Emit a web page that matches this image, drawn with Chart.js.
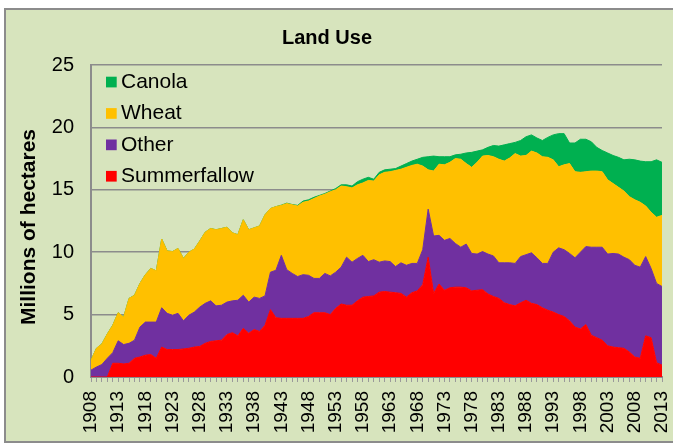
<!DOCTYPE html>
<html>
<head>
<meta charset="utf-8">
<title>Land Use</title>
<script src="https://cdn.jsdelivr.net/npm/chart.js@4.4.1/dist/chart.umd.min.js"></script>
<style>
  html, body { margin: 0; padding: 0; background: #fff; }
  #wrap { width: 673px; height: 444px; position: relative; }
</style>
</head>
<body>
<div id="wrap"><canvas id="landChart"></canvas></div>
<script>
// categories: one point per year
const firstYear = 1908;
const lastYear = 2013;
const years = [];
for (let y = firstYear; y <= lastYear; y++) years.push(String(y));
const labelEvery = 5;

// millions of hectares
const summerfallow = [
  0, 0, 0, 0, 1.1, 1.1, 1.05, 1.1, 1.5, 1.6,
  1.75, 1.8, 1.5, 2.4, 2.2, 2.2, 2.2, 2.25, 2.3, 2.4,
  2.45, 2.7, 2.85, 2.9, 2.95, 3.4, 3.55, 3.3, 3.9, 3.5,
  3.8, 3.65, 4.15, 5.4, 4.75, 4.7, 4.7, 4.7, 4.7, 4.7,
  4.85, 5.15, 5.15, 5.15, 5.0, 5.5, 5.85, 5.75, 5.75, 6.1,
  6.4, 6.45, 6.5, 6.8, 6.85, 6.8, 6.75, 6.7, 6.4, 6.75,
  6.9, 7.4, 9.6, 6.7, 7.45, 6.95, 7.15, 7.2, 7.2, 7.15,
  6.9, 6.95, 7.0, 6.65, 6.45, 6.3, 5.95, 5.8, 5.7, 5.95,
  6.15, 5.9, 5.8, 5.55, 5.35, 5.2, 5.0, 4.85, 4.5, 4.0,
  3.85, 4.2, 3.35, 3.15, 2.95, 2.5, 2.4, 2.35, 2.3, 2.0,
  1.6, 1.5, 3.3, 3.15, 1.15, 0.95
];
const other = [
  0.55, 0.8, 1.0, 1.5, 0.85, 1.8, 1.55, 1.6, 1.45, 2.4,
  2.65, 2.6, 2.9, 3.15, 2.9, 2.75, 2.9, 2.25, 2.65, 2.8,
  3.15, 3.2, 3.25, 2.8, 2.8, 2.6, 2.55, 2.85, 2.65, 2.5,
  2.6, 2.65, 2.35, 3.0, 3.8, 5.05, 3.9, 3.6, 3.35, 3.5,
  3.3, 2.75, 2.75, 3.15, 3.1, 2.9, 2.95, 3.85, 3.45, 3.4,
  3.35, 2.8, 2.9, 2.4, 2.45, 2.45, 2.1, 2.45, 2.55, 2.35,
  2.2, 2.8, 3.85, 4.6, 3.9, 4.0, 3.95, 3.5, 3.2, 3.5,
  3.0, 2.9, 3.05, 3.2, 3.25, 2.85, 3.2, 3.35, 3.4, 3.7,
  3.65, 4.05, 3.75, 3.55, 3.75, 4.8, 5.35, 5.35, 5.4, 5.55,
  6.15, 6.25, 7.05, 7.25, 7.45, 7.35, 7.5, 7.5, 7.3, 7.4,
  7.35, 7.3, 6.35, 5.55, 6.35, 6.3
];
const wheat = [
  0.8, 1.5, 1.65, 1.95, 2.2, 2.25, 2.2, 3.6, 3.6, 3.5,
  3.8, 4.3, 4.1, 5.5, 5.0, 5.1, 5.2, 5.0, 5.05, 5.05,
  5.3, 5.7, 5.8, 6.1, 6.15, 6.0, 5.45, 5.25, 6.05, 5.8,
  5.55, 5.8, 6.5, 5.1, 5.1, 4.0, 5.3, 5.5, 5.65, 5.8,
  5.95, 6.4, 6.6, 6.35, 6.75, 6.6, 6.5, 5.65, 5.95, 5.9,
  5.8, 6.5, 6.3, 7.0, 7.1, 7.2, 7.7, 7.5, 7.85, 7.85,
  7.95, 6.7, 3.15, 5.2, 5.7, 6.05, 6.1, 6.8, 7.05, 6.45,
  6.9, 7.35, 7.65, 7.9, 7.95, 8.3, 8.15, 8.4, 8.8, 8.05,
  7.95, 8.15, 8.4, 8.55, 8.5, 7.4, 6.5, 6.8, 7.2, 6.9,
  6.4, 6.0, 6.1, 6.1, 6.05, 5.95, 5.6, 5.35, 5.3, 5.05,
  5.25, 5.2, 4.05, 4.5, 5.3, 5.7
];
const canola = [
  0, 0, 0, 0, 0, 0, 0, 0, 0, 0,
  0, 0, 0, 0, 0, 0, 0, 0, 0, 0,
  0, 0, 0, 0, 0, 0, 0, 0, 0, 0,
  0, 0, 0, 0, 0, 0.02, 0.03, 0.02, 0.05, 0.1,
  0.1, 0.1, 0.05, 0.05, 0.05, 0.1, 0.1, 0.15, 0.15, 0.25,
  0.3, 0.25, 0.15, 0.2, 0.2, 0.2, 0.15, 0.25, 0.3, 0.35,
  0.4, 0.7, 1.05, 1.2, 0.6, 0.65, 0.45, 0.3, 0.4, 0.85,
  1.2, 0.9, 0.5, 0.65, 0.9, 1.05, 1.3, 1.15, 0.9, 1.25,
  1.5, 1.3, 1.2, 1.3, 1.6, 2.0, 2.65, 2.5, 1.65, 2.3,
  2.65, 2.6, 2.35, 1.9, 1.7, 2.15, 2.25, 2.4, 2.5, 3.0,
  3.2, 3.3, 3.55, 4.05, 4.6, 4.25
];

const yMax = 25;
const yStep = 5;

Chart.defaults.font.family = '"Liberation Sans", Arial, sans-serif';
Chart.defaults.color = '#000';

// light green panel with grey frame
const framePlugin = {
  id: 'frame',
  beforeDraw(chart) {
    const c = chart.ctx;
    c.save();
    c.fillStyle = '#ffffff';
    c.fillRect(0, 0, chart.width, chart.height);
    c.fillStyle = '#d7e4bd';
    c.fillRect(5, 9, chart.width, chart.height - 11);
    c.strokeStyle = '#8c8c8c';
    c.lineWidth = 2;
    c.strokeRect(5, 9, chart.width + 10, chart.height - 11);
    c.restore();
  }
};

// title, axis title and the legend inside the plot
const textPlugin = {
  id: 'texts',
  afterDraw(chart) {
    const c = chart.ctx;
    c.save();
    c.fillStyle = '#000';
    c.font = 'bold 20px "Liberation Sans", Arial, sans-serif';
    c.textAlign = 'center';
    c.textBaseline = 'middle';
    c.fillText('Land Use', 327, 38);

    c.save();
    c.translate(29, 227);
    c.rotate(-Math.PI / 2);
    c.font = 'bold 21px "Liberation Sans", Arial, sans-serif';
    c.fillText('Millions of hectares', 0, 0);
    c.restore();

    c.font = '21px "Liberation Sans", Arial, sans-serif';
    c.textAlign = 'left';
    const ds = chart.data.datasets.slice().reverse();
    ds.forEach((d, i) => {
      const cy = 82 + i * 31.4;
      c.fillStyle = d.backgroundColor;
      c.fillRect(106, cy - 5.3, 10.7, 10.7);
      c.fillStyle = '#000';
      c.fillText(d.label, 121, cy);
    });
    c.restore();
  }
};

function area(label, data, color, fill) {
  return {
    label: label,
    data: data,
    backgroundColor: color,
    borderColor: color,
    borderWidth: 1,
    fill: fill,
    pointRadius: 0,
    tension: 0
  };
}

const ctx = document.getElementById('landChart').getContext('2d');
new Chart(ctx, {
  type: 'line',
  data: {
    labels: years,
    datasets: [
      area('Summerfallow', summerfallow, '#ff0000', 'origin'),
      area('Other', other, '#7030a0', '-1'),
      area('Wheat', wheat, '#ffc000', '-1'),
      area('Canola', canola, '#00b050', '-1')
    ]
  },
  options: {
    responsive: true,
    maintainAspectRatio: false,
    animation: false,
    layout: { padding: { top: 65, right: 11, left: 0, bottom: 0 } },
    plugins: {
      legend: { display: false },
      tooltip: { enabled: false },
      title: { display: false }
    },
    scales: {
      x: {
        offset: false,
        grid: { drawOnChartArea: false, drawTicks: true, tickLength: 5, color: '#9a9a9a', lineWidth: 1 },
        border: { display: true, color: '#8c8c8c', width: 2 },
        ticks: {
          autoSkip: false,
          minRotation: 90,
          maxRotation: 90,
          padding: 9,
          font: { size: 19 },
          callback: (value, index) => (index % labelEvery === 0 ? years[index] : '')
        },
        afterFit: (s) => { s.height = 67; s.paddingLeft = 0; s.paddingRight = 0; }
      },
      y: {
        stacked: true,
        min: 0,
        max: yMax,
        ticks: { stepSize: yStep, padding: 17, font: { size: 20 } },
        grid: { color: '#8c8c8c', lineWidth: 1.5, drawTicks: false },
        border: { display: true, color: '#8c8c8c', width: 2 },
        afterFit: (s) => { s.width = 91; s.paddingTop = 0; s.paddingBottom = 0; }
      }
    }
  },
  plugins: [framePlugin, textPlugin]
});
</script>
</body>
</html>
